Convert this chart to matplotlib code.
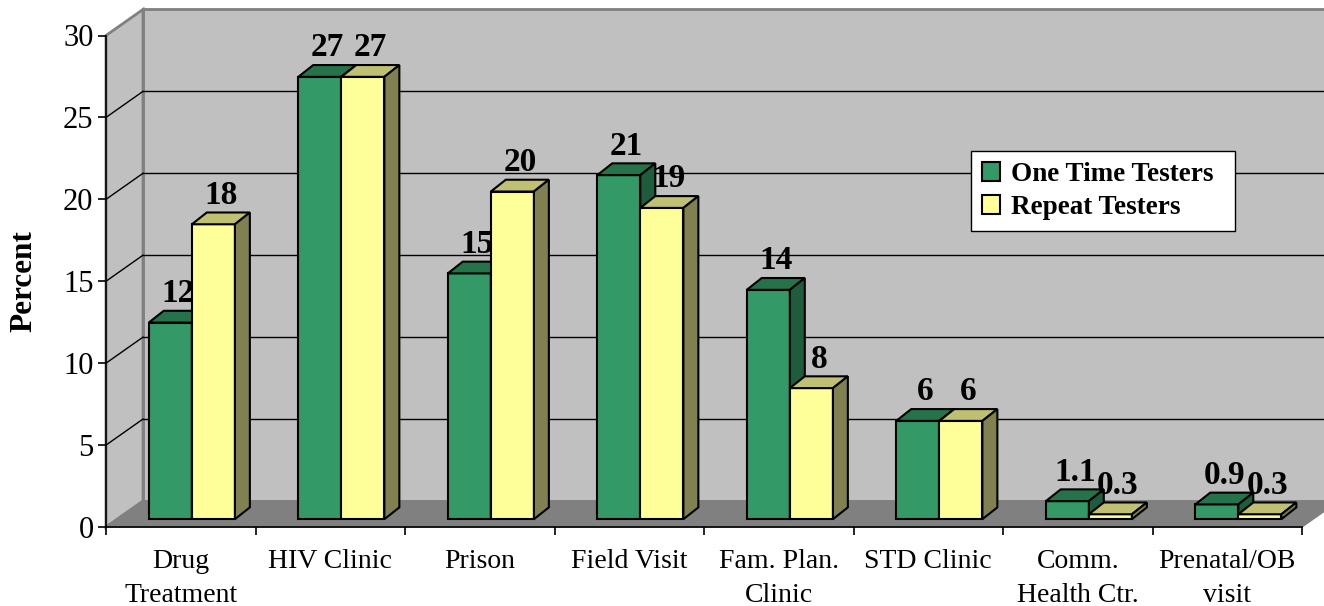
import matplotlib
matplotlib.use("Agg")
import matplotlib.pyplot as plt
from matplotlib.patches import Polygon, Patch

plt.rcParams['font.family'] = ['Liberation Serif', 'DejaVu Serif']

categories = ["Drug\nTreatment", "HIV Clinic", "Prison", "Field Visit",
              "Fam. Plan.\nClinic", "STD Clinic", "Comm.\nHealth Ctr.",
              "Prenatal/OB\nvisit"]
one_time = [12, 27, 15, 21, 14, 6, 1.1, 0.9]
repeat = [18, 27, 20, 19, 8, 6, 0.3, 0.3]
series_names = ["One Time Testers", "Repeat Testers"]
yticks = [0, 5, 10, 15, 20, 25, 30]

# colours: front, top, side
green = ("#339966", "#267349", "#1f5c3d")
yellow = ("#FFFF99", "#C0C073", "#808050")

# oblique depth of the "3D" box (in data units)
DX, DY = 0.2475, 1.59
x0, x1 = -0.5, len(categories) - 0.5
ymax = 30
bar_w = 0.288
shift = 0.3          # bars sit 30% into the depth
bdx, bdy = 0.10, 0.72  # bar depth

fig = plt.figure(figsize=(13.24, 6.06), dpi=100)
ax = fig.add_axes([106 / 1324, 79 / 606, 1196 / 1324, 491.5 / 606])
ax.set_xlim(x0, x1)
ax.set_ylim(0, ymax)
ax.patch.set_alpha(0)


def poly(pts, fc, ec="none", lw=1.0, z=1):
    ax.add_patch(Polygon(pts, closed=True, facecolor=fc, edgecolor=ec,
                         linewidth=lw, zorder=z, clip_on=False,
                         joinstyle="miter"))


# walls and floor
poly([(x0 + DX, DY), (x1 + DX, DY), (x1 + DX, ymax + DY), (x0 + DX, ymax + DY)],
     "#C0C0C0", "#808080", 2, z=0.5)
poly([(x0, 0), (x0 + DX, DY), (x0 + DX, ymax + DY), (x0, ymax)],
     "#C0C0C0", "#808080", 2, z=0.6)
poly([(x0, 0), (x1, 0), (x1 + DX, DY), (x0 + DX, DY)], "#808080", "#808080",
     1, z=0.7)

for y in yticks[1:-1]:
    ax.plot([x0 + DX, x1 + DX], [y + DY, y + DY], color="black", lw=1,
            zorder=0.8, clip_on=False)
    ax.plot([x0, x0 + DX], [y, y + DY], color="black", lw=1, zorder=0.8,
            clip_on=False)

# bars
for i in range(len(categories)):
    c = i + shift * DX
    by = shift * DY
    for k, (v, col) in enumerate([(one_time[i], green), (repeat[i], yellow)]):
        left = c - bar_w + k * bar_w
        right = left + bar_w
        z = 3 + i * 0.1 + k * 0.01
        poly([(left, by), (right, by), (right, by + v), (left, by + v)],
             col[0], "black", 1.5, z)
        poly([(left, by + v), (right, by + v), (right + bdx, by + v + bdy),
              (left + bdx, by + v + bdy)], col[1], "black", 1.5, z)
        poly([(right, by), (right + bdx, by + bdy), (right + bdx, by + v + bdy),
              (right, by + v)], col[2], "black", 1.5, z)
        ax.text((left + right) / 2 + bdx / 2, by + v + bdy + 0.1, f"{v:g}",
                ha="center", va="bottom", fontsize=24, fontweight="bold",
                zorder=10)

# axes
for s in ["top", "right"]:
    ax.spines[s].set_visible(False)
ax.spines["left"].set_zorder(2)
ax.spines["bottom"].set_zorder(2)
ax.spines["left"].set_linewidth(1.2)
ax.spines["bottom"].set_linewidth(1.2)
ax.set_yticks(yticks)
ax.tick_params(axis="y", direction="out", length=6, width=1.2, labelsize=22,
               pad=3)
ax.set_xticks(range(len(categories)))
ax.set_xticklabels(categories, fontsize=20, linespacing=1.5)
ax.set_xticks([x0 + j for j in range(len(categories) + 1)], minor=True)
ax.tick_params(axis="x", which="major", length=0, pad=15.5)
ax.tick_params(axis="x", which="minor", direction="out", length=6, width=1.2)

ax.set_ylabel("Percent", fontsize=22.5, fontweight="bold", labelpad=18)

handles = [Patch(facecolor=green[0], edgecolor="black", lw=1.5),
           Patch(facecolor=yellow[0], edgecolor="black", lw=1.5)]
leg = ax.legend(handles, series_names, loc="upper left",
                bbox_to_anchor=(0.723, 0.605, 0.221, 0.159), mode="expand",
                borderaxespad=0, fancybox=False, framealpha=1,
                edgecolor="black", handlelength=0.7, handleheight=0.7,
                handletextpad=0.4, labelspacing=0.3,
                prop={"size": 19.5, "weight": "bold"})
leg.set_zorder(20)
leg.get_frame().set_linewidth(1.0)

fig.savefig("out.png", dpi=100, facecolor="white")
